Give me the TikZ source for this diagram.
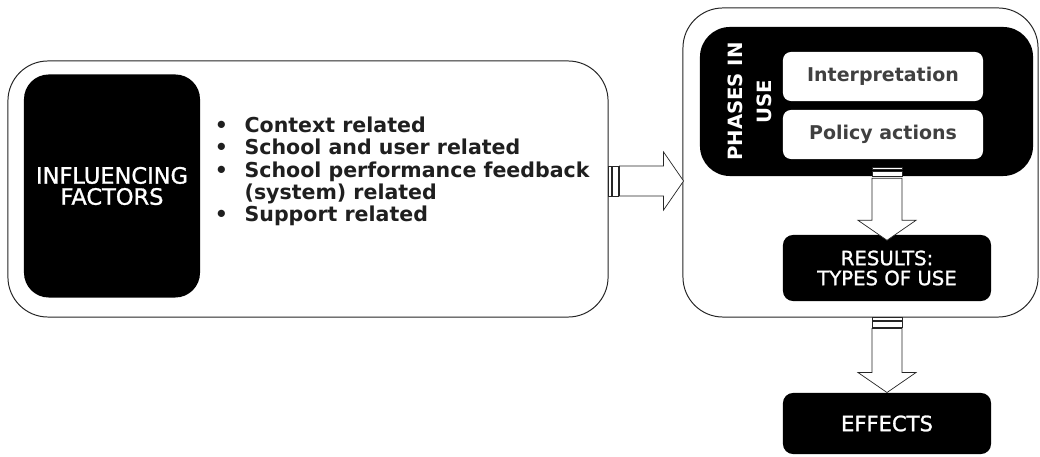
\documentclass[tikz,border=0pt]{standalone}
\usepackage{fontspec}
\setmainfont{DejaVu Sans}
\newfontfamily\capsfont{DejaVu Sans}[FakeBold=1.2]
\usetikzlibrary{calc}

\tikzset{
	outerbox/.style={draw=black!85, line width=0.7pt, fill=white, rounded corners=1cm, inner sep=0pt},
	darkbox/.style={fill=black, text=white, align=center, inner sep=0pt},
	lightbox/.style={fill=white, text=black!75, rounded corners=0.2cm, inner sep=0pt,
		minimum width=5cm, minimum height=1.225cm, font=\bfseries\fontsize{13.5}{16}\selectfont},
	arrowline/.style={draw=black!85, line width=0.5pt, fill=white},
}

% block arrow with two stripes at its tail: tail, angle, length (px)
\newcommand{\stripedarrow}[3]{%
	\begin{scope}[shift={(#1)}, rotate=#2]
		\draw[arrowline] (0,-15) rectangle (2.5,15);
		\draw[arrowline] (4,-15) rectangle (9.5,15);
		\draw[arrowline] (11,-15) -- (#3-20,-15) -- (#3-20,-29) -- (#3,0)
			-- (#3-20,29) -- (#3-20,15) -- (11,15) -- cycle;
	\end{scope}}

\begin{document}
\begin{tikzpicture}[x=0.025cm, y=-0.025cm]
	\useasboundingbox (0,0) rectangle (1040,457);

	% left part
	\node[outerbox, minimum width=15cm, minimum height=6.4cm] (lbox) at (308,189) {};
	\node[darkbox, rounded corners=0.62cm, minimum width=4.4cm, minimum height=5.575cm,
		font=\capsfont\fontsize{16}{15}\selectfont] (infl) at (112,186) {INFLUENCING\\FACTORS};
	\node[anchor=west, inner sep=0pt, text=black!88, font=\bfseries\fontsize{14.6}{15.6}\selectfont] (factors) at (212,172.5) {%
		\begin{tabular}{@{}c@{\hspace{10pt}}l@{}}
			\makebox[13pt]{\textbullet} & Context related\\
			\makebox[13pt]{\textbullet} & School and user related\\
			\makebox[13pt]{\textbullet} & School performance feedback\\
			& (system) related\\
			\makebox[13pt]{\textbullet} & Support related
		\end{tabular}};

	% right part
	\node[outerbox, minimum width=8.875cm, minimum height=7.725cm] (rbox) at (860.5,162.5) {};
	\node[darkbox, rounded corners=0.75cm, minimum width=8.325cm, minimum height=3.725cm] (phases) at (866.5,101.5) {};
	\node[text=white, rotate=90, align=center, font=\bfseries\fontsize{14}{21}\selectfont] (phaseslabel) at (750,101.5) {PHASES IN\\USE};
	\node[lightbox] (interp) at (883,76.5) {Interpretation};
	\node[lightbox] (policy) at (883,134.5) {Policy actions};

	\node[darkbox, rounded corners=0.25cm, minimum width=5.2cm, minimum height=1.65cm,
		font=\capsfont\fontsize{14}{14.2}\selectfont] (results) at (887,268) {RESULTS:\\TYPES OF USE};
	\node[darkbox, rounded corners=0.25cm, minimum width=5.2cm, minimum height=1.525cm,
		font=\capsfont\fontsize{15}{15}\selectfont] (effects) at (887,423.5) {EFFECTS};

	% arrows
	\stripedarrow{$(lbox.east)+(0,-8)$}{0}{75}
	\stripedarrow{$(results.north |- phases.south)+(0,-9)$}{-90}{73}
	\stripedarrow{results.south |- rbox.south}{-90}{75}
\end{tikzpicture}
\end{document}
